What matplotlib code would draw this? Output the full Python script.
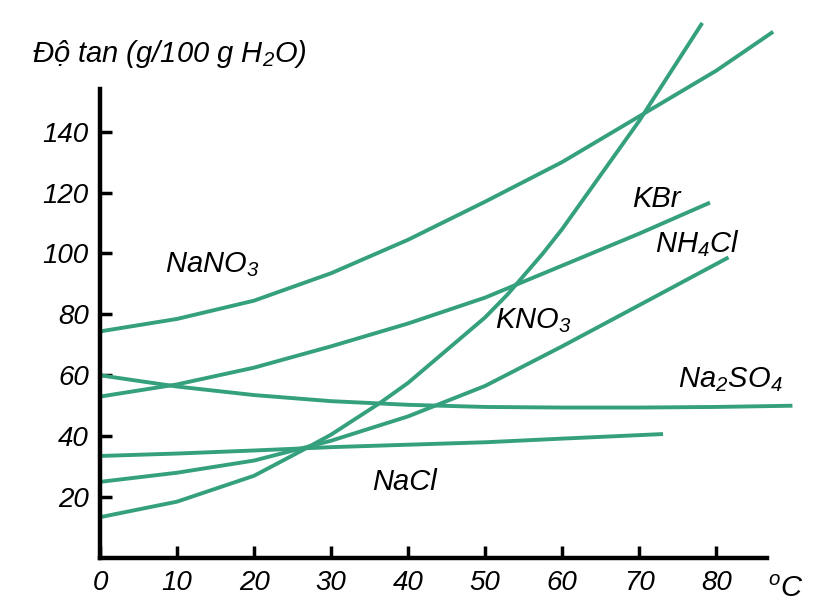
import matplotlib.pyplot as plt

plt.rcParams['font.family'] = ['Liberation Sans', 'DejaVu Sans']
plt.rcParams['font.style'] = 'italic'
plt.rcParams['mathtext.default'] = 'regular'

# solubility curves (temperature in C, g per 100 g water)
t_nano3 = [0, 10, 20, 30, 40, 50, 60, 70, 80, 87.4]
s_nano3 = [74.4, 78.5, 84.5, 93.5, 104.5, 117.0, 130.0, 145.0, 160.0, 172.8]

t_kno3 = [0, 10, 20, 26, 30, 36.4, 40, 50, 52.9, 57.5, 60, 70, 78.2]
s_kno3 = [13.4, 18.5, 27.0, 35.0, 40.5, 51.0, 57.5, 79.0, 86.5, 100.0, 108.0, 143.5, 175.7]

t_kbr = [0, 10, 20, 30, 40, 50, 60, 70, 79.2]
s_kbr = [53.0, 57.0, 62.5, 69.5, 77.0, 85.5, 96.0, 106.5, 116.7]

t_nh4cl = [0, 10, 20, 30, 40, 50, 60, 70, 81.6]
s_nh4cl = [25.0, 28.0, 32.0, 38.5, 46.5, 56.5, 69.5, 83.0, 98.7]

t_na2so4 = [0, 10, 20, 30, 40, 50, 60, 70, 80, 89.9]
s_na2so4 = [60.0, 56.3, 53.5, 51.5, 50.3, 49.6, 49.4, 49.4, 49.6, 50.0]

t_nacl = [0, 10, 20, 30, 40, 50, 60, 73.1]
s_nacl = [33.5, 34.3, 35.3, 36.4, 37.2, 38.0, 39.2, 40.7]

x_ticks = [0, 10, 20, 30, 40, 50, 60, 70, 80]
y_ticks = [20, 40, 60, 80, 100, 120, 140]

line_color = '#35a07e'

fig = plt.figure(figsize=(8.34, 6.16), dpi=100)
ax = fig.add_axes([100 / 834, 58 / 616, 667 / 834, 469 / 616])

curves = [(t_nano3, s_nano3), (t_kno3, s_kno3), (t_kbr, s_kbr),
          (t_nh4cl, s_nh4cl), (t_na2so4, s_na2so4), (t_nacl, s_nacl)]
for t, s in curves:
    ax.plot(t, s, color=line_color, lw=2.8, clip_on=False, solid_capstyle='butt')

ax.set_xlim(0, 86.6)
ax.set_ylim(0, 154)
ax.set_xticks(x_ticks)
ax.set_yticks(y_ticks)
ax.spines['top'].set_visible(False)
ax.spines['right'].set_visible(False)
for side in ['left', 'bottom']:
    ax.spines[side].set_linewidth(3.2)
ax.tick_params(axis='both', direction='in', length=8.5, width=2.5, labelsize=20)
ax.tick_params(axis='y', pad=8)
ax.tick_params(axis='x', pad=9)

# curve names
lab_size = 21
ax.text(8.4, 93.8, 'NaNO$_3$', fontsize=lab_size, va='baseline')
ax.text(69.1, 115.4, 'KBr', fontsize=lab_size, va='baseline')
ax.text(72.1, 100.3, 'NH$_4$Cl', fontsize=lab_size, va='baseline')
ax.text(51.3, 75.4, 'KNO$_3$', fontsize=lab_size, va='baseline')
ax.text(75.0, 56.1, 'Na$_2$SO$_4$', fontsize=lab_size, va='baseline', clip_on=False)
ax.text(35.3, 22.3, 'NaCl', fontsize=lab_size, va='baseline')

fig.text(32 / 834, 1 - 62 / 616, 'Độ tan (g/100 g H$_2$O)', fontsize=21, va='baseline')
fig.text(768 / 834, 1 - 597 / 616, '$^{o}$C', fontsize=21, va='baseline')

fig.savefig('out.png', dpi=100)
